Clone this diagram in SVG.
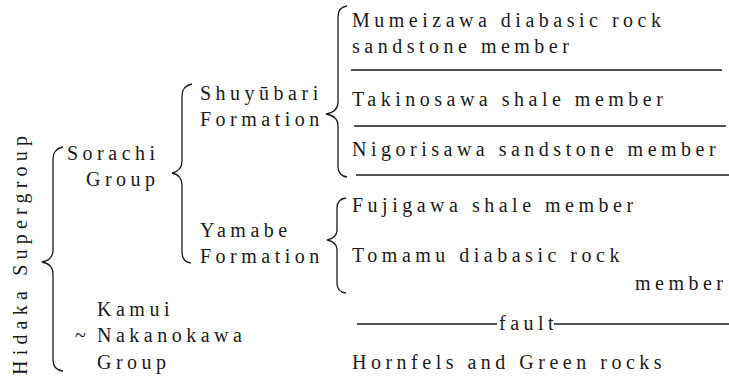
<svg xmlns="http://www.w3.org/2000/svg" width="729" height="378" viewBox="0 0 729 378">
<style>
text{font-family:"Liberation Serif","Times New Roman",serif;font-size:20px;letter-spacing:4.5px;fill:#1a1a1a}
.br{fill:none;stroke:#1a1a1a;stroke-width:1.3}
.ln{stroke:#1a1a1a;stroke-width:1.3}
</style>
<rect width="729" height="378" fill="#fff"/>
<g id="connectors">
<path class="br" d="M347,6 Q338,7 338,17 L338,102 Q338,112 326,114 Q338,116 338,126 L338,166 Q338,176 347,177"/>
<path class="br" d="M192,84 Q182,86 182,96 L182,161 Q182,171 172,173 Q182,175 182,185 L182,252 Q182,262 191,263"/>
<path class="br" d="M63,147 Q53,149 53,159 L53,250 Q53,260 42,262 Q53,264 53,274 L53,360 Q53,370 63,371"/>
<path class="br" d="M346,198 Q337,199 337,208 L337,230 Q337,238 327,240 Q337,242 337,250 L337,283 Q337,292 346,293"/>
<line class="ln" x1="351" y1="70" x2="722" y2="70"/>
<line class="ln" x1="354" y1="126" x2="726" y2="126"/>
<line class="ln" x1="356" y1="175" x2="729" y2="175"/>
<line class="ln" x1="357" y1="324" x2="497" y2="324"/>
<line class="ln" x1="554" y1="324" x2="729" y2="324"/>
</g>
<g id="hidaka"><text transform="translate(27,375) rotate(-90)" style="letter-spacing:5.2px">Hidaka Supergroup</text></g>
<g id="sorachi"><text x="67" y="160">Sorachi</text><text x="86" y="186">Group</text></g>
<g id="shuyubari"><text x="200" y="100">Shuyūbari</text><text x="200" y="126">Formation</text></g>
<g id="yamabe"><text x="200" y="237">Yamabe</text><text x="200" y="263">Formation</text></g>
<g id="kamui"><text x="97" y="316">Kamui</text><text x="75" y="342">~</text><text x="97" y="342">Nakanokawa</text><text x="97" y="369">Group</text></g>
<g id="mumeizawa"><text x="352" y="27">Mumeizawa diabasic rock</text><text x="352" y="53">sandstone member</text></g>
<g id="takinosawa"><text x="352" y="106">Takinosawa shale member</text></g>
<g id="nigorisawa"><text x="352" y="156">Nigorisawa sandstone member</text></g>
<g id="fujigawa"><text x="352" y="212">Fujigawa shale member</text></g>
<g id="tomamu"><text x="352" y="262">Tomamu diabasic rock</text><text x="635" y="290">member</text></g>
<g id="fault"><text x="499" y="330">fault</text></g>
<g id="hornfels"><text x="352" y="369">Hornfels and Green rocks</text></g>
</svg>
